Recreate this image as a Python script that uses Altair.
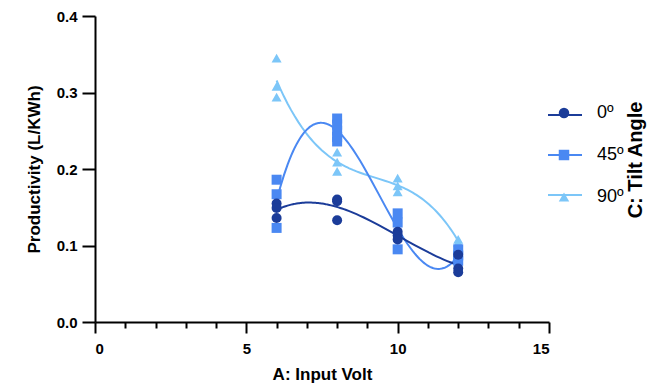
import altair as alt
import pandas as pd

# data
angles = ["0º", "45º", "90º"]
volt_0 = [6, 6, 6, 8, 8, 8, 10, 10, 10, 12, 12, 12]
prod_0 = [0.155, 0.149, 0.136, 0.160, 0.158, 0.133, 0.118, 0.113, 0.108, 0.088, 0.070, 0.065]
volt_45 = [6, 6, 6, 8, 8, 8, 8, 8, 10, 10, 10, 12, 12, 12]
prod_45 = [0.186, 0.167, 0.123, 0.266, 0.258, 0.250, 0.242, 0.236, 0.142, 0.130, 0.095, 0.095, 0.087, 0.080]
volt_90 = [6, 6, 6, 8, 8, 8, 10, 10, 10, 12, 12]
prod_90 = [0.345, 0.308, 0.294, 0.222, 0.209, 0.197, 0.188, 0.178, 0.170, 0.108, 0.104]

x_ticks = list(range(0, 16))
y_ticks = [0.0, 0.1, 0.2, 0.3, 0.4]
colors = ["#1B3C99", "#4A88F2", "#7CC6F8"]
legend_title = "C: Tilt Angle"

rows = []
for ang, vs, ps in [(angles[2], volt_90, prod_90), (angles[1], volt_45, prod_45), (angles[0], volt_0, prod_0)]:
    for v, p in zip(vs, ps):
        rows.append({"volt": v, "prod": p, "angle": ang})
df = pd.DataFrame(rows)

FONT = "Liberation Sans"

xscale = alt.Scale(domain=[0, 15], nice=False, zero=False)
yscale = alt.Scale(domain=[0, 0.4], nice=False)
cscale = alt.Scale(domain=angles, range=colors)
# separate domain for the curve legend, so it is not merged with the marker legend
line_keys = [a + "_" for a in angles]
sscale = alt.Scale(domain=line_keys, range=colors)

x_axis = alt.Axis(
    title="A: Input Volt", values=x_ticks,
    labelExpr="datum.value % 5 === 0 ? datum.label : ''",
    tickSize={"condition": {"test": "datum.value % 5 === 0", "value": 11}, "value": 6},
    labelPadding=8, titlePadding=10, grid=False,
)
y_axis = alt.Axis(title="Productivity (L/KWh)", values=y_ticks, format=".1f",
                  tickSize=13, labelPadding=5, titlePadding=13, grid=False)

base = alt.Chart(df)
X = alt.X("volt:Q", scale=xscale, axis=x_axis)
Y = alt.Y("prod:Q", scale=yscale, axis=y_axis)

line_legend = alt.Legend(
    title=None, orient="none", legendX=452, legendY=81,
    symbolType="stroke", symbolSize=1156, symbolStrokeWidth=2,
    labelFontSize=18, labelFont=FONT, labelOpacity=0, labelOffset=0, labelExpr="' '",
    rowPadding=13, padding=0,
)
point_legend = alt.Legend(
    title=None, orient="none", legendX=460, legendY=88,
    symbolSize=110, symbolOpacity=1,
    labelFontSize=18, labelFont=FONT, labelColor="black", labelOffset=24,
    rowPadding=24, padding=0,
)

lines = base.transform_regression(
    "volt", "prod", groupby=["angle"], method="poly", order=3, extent=[6, 12]
).transform_calculate(series="datum.angle + '_'").mark_line(strokeWidth=2).encode(
    x=X, y=Y,
    stroke=alt.Stroke("series:N", scale=sscale, legend=line_legend),
    detail="angle:N",
)

points = base.mark_point(filled=True, opacity=1, size=100).encode(
    x=X, y=Y,
    color=alt.Color("angle:N", scale=cscale, legend=point_legend),
    shape=alt.Shape("angle:N", scale=alt.Scale(domain=angles, range=["circle", "square", "triangle-up"]),
                    legend=point_legend),
    order=alt.Order("angle:N", sort="descending"),
)

chart = alt.layer(lines, points).properties(
    width=454, height=306,
    autosize=alt.AutoSizeParams(type="none"),
    padding={"left": 95, "top": 16, "right": 123, "bottom": 69},
    background="white",
    title=alt.TitleParams(legend_title, orient="right", angle=270, anchor="middle", offset=6, dx=9, dy=-24,
                          font=FONT, fontSize=20, fontWeight="bold", color="black"),
).configure_view(stroke=None).configure_axis(
    domainColor="black", domainWidth=2, tickColor="black", tickWidth=2,
    labelFont=FONT, labelFontSize=15, labelFontWeight="bold", labelColor="black",
    titleFont=FONT, titleFontSize=17, titleFontWeight="bold", titleColor="black",
)

chart.save("out.html", embed_options={"renderer": "svg", "actions": False})
